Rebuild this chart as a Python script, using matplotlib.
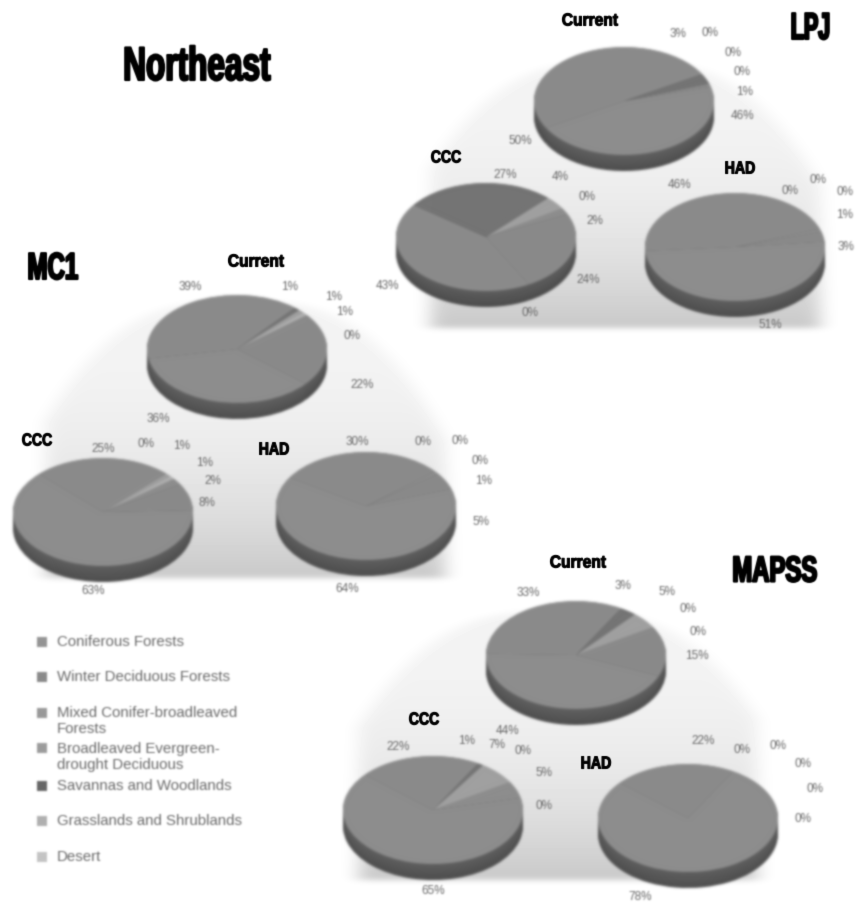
import numpy as np
import matplotlib
matplotlib.use("Agg")
import matplotlib.pyplot as plt
import matplotlib.patheffects as pe
from matplotlib.patches import Rectangle
from matplotlib.transforms import Affine2D

W, H = 856, 902

# ---- data: slice order is the legend order ----
categories = ["Coniferous Forests", "Winter Deciduous Forests",
              "Mixed Conifer-broadleaved\nForests",
              "Broadleaved Evergreen-\ndrought Deciduous",
              "Savannas and Woodlands", "Grasslands and Shrublands", "Desert"]
lpj_current = [0, 1, 46, 50, 3, 0, 0]
lpj_ccc = [2, 24, 0, 43, 27, 4, 0]
lpj_had = [1, 3, 51, 46, 0, 0, 0]
mc1_current = [0, 22, 36, 39, 1, 1, 1]
mc1_ccc = [2, 8, 63, 25, 0, 1, 1]
mc1_had = [1, 5, 64, 30, 0, 0, 0]
mapss_current = [0, 15, 44, 33, 3, 5, 0]
mapss_ccc = [5, 0, 65, 22, 1, 7, 0]
mapss_had = [0, 0, 78, 22, 0, 0, 0]

# ---- styles and layout ----
colors = ["#8d8d8d", "#8a8a8a", "#8d8d8d", "#8b8b8b", "#747474", "#a0a0a0", "#b0b0b0"]
swatch = ["#949494", "#8a8a8a", "#999999", "#9c9c9c", "#666666", "#b0b0b0", "#c4c4c4"]
RX, RY, DEPTH = 90, 54, 16
pies = [  # values, centre x, top y, first-slice angle, label positions
    (lpj_current, 624, 47, 19, [(742, 72), (745, 92), (743, 116), (520, 141), (678, 34), (710, 33), (733, 53)]),
    (lpj_ccc, 486, 183, 32, [(595, 221), (588, 280), (530, 313), (387, 286), (505, 175), (560, 177), (587, 197)]),
    (lpj_had, 735, 193, 20, [(845, 215), (846, 247), (770, 325), (680, 185), (790, 191), (818, 180), (845, 192)]),
    (mc1_current, 237, 295, 39, [(352, 336), (362, 385), (158, 419), (190, 287), (290, 287), (334, 297), (345, 312)]),
    (mc1_ccc, 103, 458, 38, [(213, 481), (207, 503), (93, 591), (103, 449), (146, 444), (182, 446), (205, 463)]),
    (mc1_had, 366, 452, 40, [(484, 481), (481, 522), (347, 589), (357, 442), (423, 442), (460, 441), (480, 461)]),
    (mapss_current, 576, 601, 31, [(698, 632), (697, 656), (508, 731), (528, 593), (623, 586), (667, 592), (688, 609)]),
    (mapss_ccc, 433, 756, 31, [(544, 773), (544, 806), (433, 891), (398, 747), (467, 741), (497, 745), (523, 751)]),
    (mapss_had, 688, 764, 60, [(815, 789), (803, 819), (640, 897), (703, 741), (742, 750), (778, 746), (803, 764)]),
]
big_titles = [("Northeast", 197, 68, 34, 147), ("LPJ", 811, 29, 27, 38),
              ("MC1", 53, 269, 27, 50), ("MAPSS", 775, 572, 26, 84)]
sub_titles = [("Current", 590, 21, 56), ("CCC", 446, 158, 30), ("HAD", 740, 169, 30),
              ("Current", 256, 262, 56), ("CCC", 37, 441, 30), ("HAD", 274, 450, 30),
              ("Current", 578, 563, 56), ("CCC", 424, 720, 30), ("HAD", 596, 764, 30)]
legend_swatch_y = [642, 677, 713, 748, 786, 821, 857]
legend_text_y = [642, 677, 721, 757, 786, 821, 857]
mounds = [  # apex x, apex y, base y, half width, left limit, right limit
    (620, 60, 328, 260, 430, 820),
    (240, 300, 578, 260, 45, 445),
    (560, 610, 880, 270, 358, 757),
]
FONT = ["Liberation Sans", "DejaVu Sans"]


class FitWidth(pe.AbstractPathEffect):
    """Squeeze a text path about its centre to a target width and embolden it."""
    def __init__(self, width, stroke):
        super().__init__()
        self.width, self.stroke = width, stroke

    def draw_path(self, renderer, gc, tpath, affine, rgbFace=None):
        pts = affine.transform(tpath.vertices)
        x0, x1 = pts[:, 0].min(), pts[:, 0].max()
        mid = (x0 + x1) / 2
        squeeze = Affine2D().translate(-mid, 0).scale(self.width / (x1 - x0), 1).translate(mid, 0)
        gc0 = renderer.new_gc()
        gc0.copy_properties(gc)
        gc0.set_linewidth(self.stroke)
        gc0.set_foreground("black")
        renderer.draw_path(gc0, tpath, affine + squeeze, rgbFace)
        gc0.restore()


def blur1d(a, sigma, axis):
    r = int(3 * sigma) + 1
    k = np.exp(-0.5 * (np.arange(-r, r + 1) / sigma) ** 2)
    k /= k.sum()
    return np.apply_along_axis(lambda v: np.convolve(v, k, "same"), axis, a)


def soft(sigma):
    """agg filter: gaussian blur that keeps straight-alpha colours clean."""
    def flt(img, dpi):
        pad = int(3 * sigma) + 2
        a = np.pad(img, ((pad, pad), (pad, pad), (0, 0)))
        pm = a.copy()
        pm[..., :3] *= a[..., 3:4]
        for ch in range(4):
            pm[..., ch] = blur1d(blur1d(pm[..., ch], sigma, 0), sigma, 1)
        al = np.maximum(pm[..., 3:4], 1e-4)
        out = pm.copy()
        out[..., :3] = np.clip(pm[..., :3] / al, 0, 1)
        return out, -pad, -pad
    return flt


fig = plt.figure(figsize=(W / 100, H / 100), dpi=100, facecolor="white")
bg = fig.add_axes([0, 0, 1, 1])
bg.set_xlim(0, W)
bg.set_ylim(H, 0)
bg.axis("off")

# soft grey domes behind each group of pies
yy, xx = np.mgrid[0:H, 0:W].astype(float)
shade = np.zeros((H, W))
for cx0, ay0, ay1, hw, xl, xr in mounds:
    t = np.clip((yy - ay0) / (ay1 - ay0), 0, 1)
    inside = (np.abs(xx - cx0) < hw * t ** 0.35) & (yy < ay1) & (yy > ay0) & (xx > xl) & (xx < xr)
    shade = np.maximum(shade, inside * (0.045 + 0.17 * t ** 2.5))
shade = blur1d(blur1d(shade, 9, 1), 3, 0)
bg.imshow(1 - shade, cmap="gray", vmin=0, vmax=1, extent=(0, W, H, 0), aspect="auto", zorder=0)

# pies
for values, cx, top, start, label_xy in pies:
    ax = fig.add_axes([(cx - RX) / W, 1 - (top + 2 * RY + DEPTH) / H, 2 * RX / W, (2 * RY + DEPTH) / H])
    d = DEPTH / RY
    for k, off in enumerate(np.linspace(d, d * 0.02, 10)):
        f = 0.55 + 0.13 * k / 9
        side = [tuple(c * f for c in matplotlib.colors.to_rgb(col)) for col in colors]
        ax.pie(values, colors=side, startangle=start, counterclock=False, center=(0, -off), radius=1)
    ax.pie(values, colors=colors, startangle=start, counterclock=False, center=(0, 0), radius=1)
    ax.set_aspect("auto")
    ax.set_xlim(-1, 1)
    ax.set_ylim(-1 - d, 1)
    ax.axis("off")
    ax.set_agg_filter(soft(1.3))
    for v, (lx, ly) in zip(values, label_xy):
        t = bg.text(lx, ly, f"{v}%", ha="center", va="center", fontsize=8.5, color="#686868", family=FONT, zorder=5)
        t.set_agg_filter(soft(0.9))

# titles
for s, x, y, size, w in big_titles:
    t = bg.text(x, y, s, ha="center", va="center", fontsize=size, fontweight="bold", family=FONT, color="black",
                path_effects=[FitWidth(w, 1.6)], zorder=6)
    t.set_agg_filter(soft(0.6))
for s, x, y, w in sub_titles:
    t = bg.text(x, y, s, ha="center", va="center", fontsize=12.5, fontweight="bold", family=FONT, color="black",
                path_effects=[FitWidth(w, 0.8)], zorder=6)
    t.set_agg_filter(soft(0.5))

# legend
for label, sw, ys, yt in zip(categories, swatch, legend_swatch_y, legend_text_y):
    r = Rectangle((37, ys - 5), 10, 10, facecolor=sw, edgecolor="none", zorder=5)
    bg.add_patch(r)
    r.set_agg_filter(soft(1.0))
    t = bg.text(57, yt, label, ha="left", va="center", fontsize=10.8, color="#6a6a6a", family=FONT,
                linespacing=1.18, zorder=5)
    t.set_agg_filter(soft(0.9))

fig.savefig("out.png", dpi=100, facecolor="white")
